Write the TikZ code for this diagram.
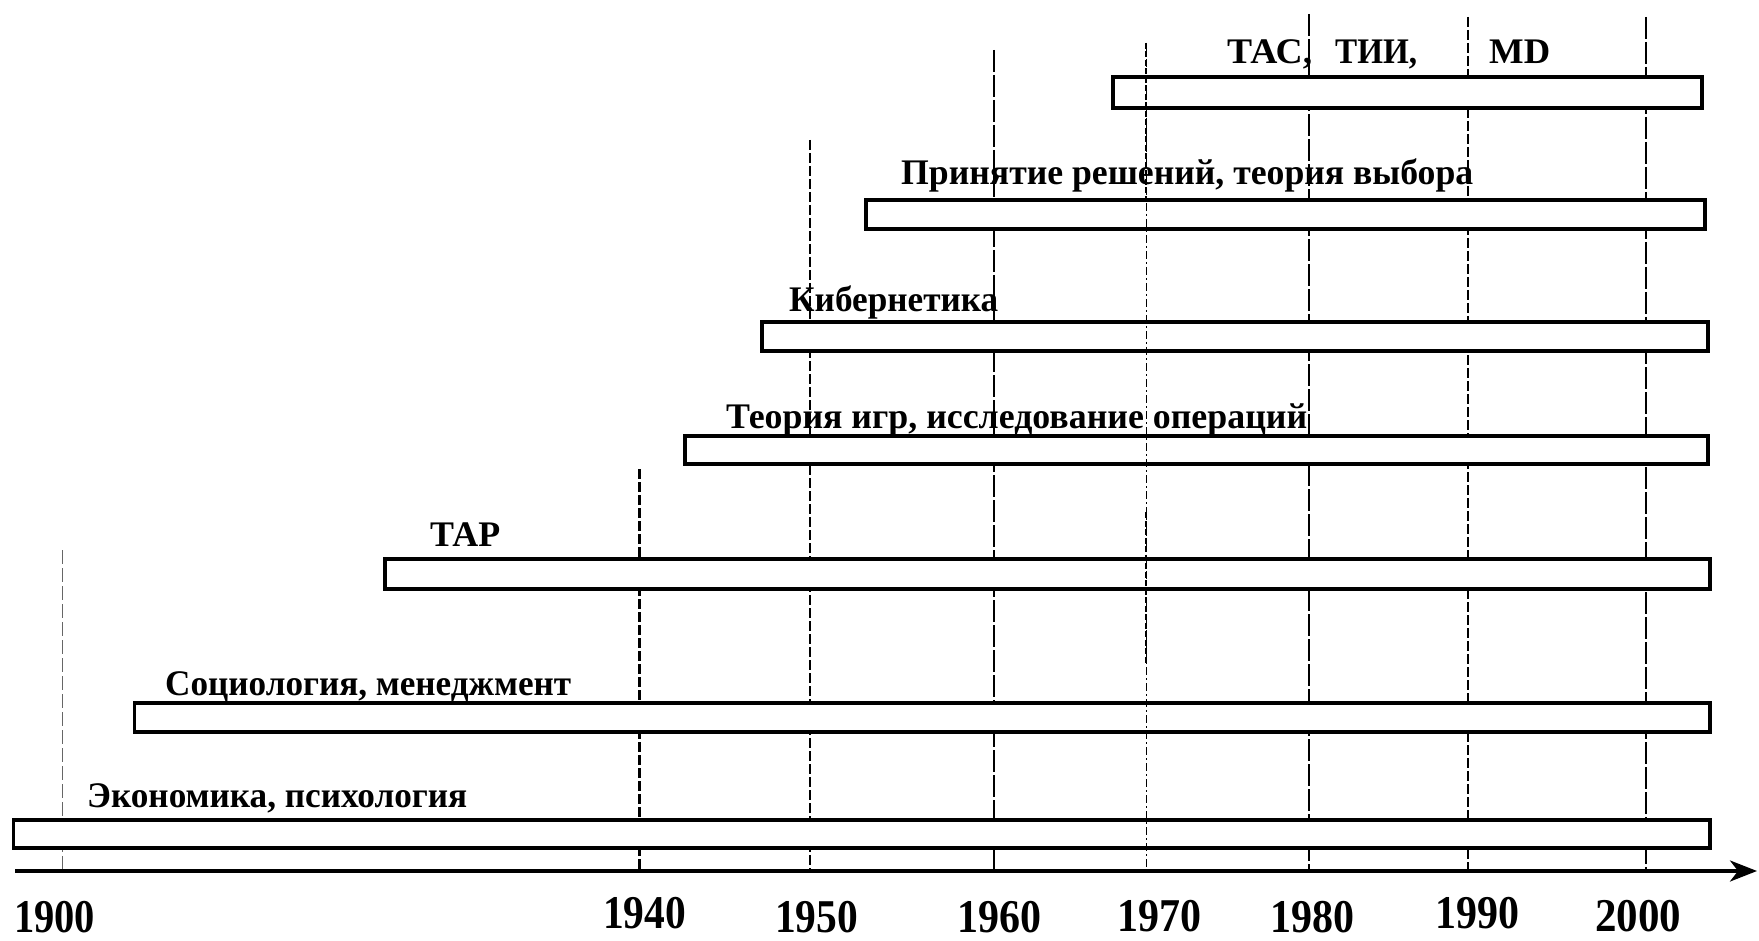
\documentclass[tikz,border=0pt]{standalone}
\usepackage{fontspec}
\setmainfont{Liberation Serif}
\usetikzlibrary{arrows.meta}
\newcommand{\fitto}[2]{\resizebox{#1pt}{\height}{#2}}
\begin{document}
\begin{tikzpicture}[x=1pt,y=-1pt,
  lbl/.style={font=\fontsize{36}{36}\selectfont\bfseries, inner sep=0pt, anchor=base west},
  yr/.style={font=\fontsize{47}{47}\selectfont\bfseries, inner sep=0pt, anchor=base west},
  bar/.style={draw, line width=3.5pt, fill=white},
  thinl/.style={line width=1.1pt, dash pattern=on 22pt off 3pt},
  paleline/.style={line width=1pt, draw=black!60, dash pattern=on 14pt off 4pt},
  thickl/.style={line width=2.6pt, dash pattern=on 10pt off 3pt},
  dotdash/.style={line width=1pt, dash pattern=on 8pt off 3pt on 2pt off 3pt},
  thickseg/.style={line width=2.6pt, dash pattern=on 6pt off 2.5pt}]
\useasboundingbox (0,0) rectangle (1759,941);

% grid lines behind the bars
\draw[paleline] (62,550) -- (62,871);
\draw[thickl] (639.5,469) -- (639.5,871);
\draw[thickl] (810,140) -- (810,871);
\draw[thinl] (994,50) -- (994,871);
\draw[thinl] (1309,14) -- (1309,871);
\draw[thickl] (1468,17) -- (1468,871);
\draw[thinl] (1646,17) -- (1646,871);

% bars
\draw[bar] (13.5,820) rectangle (1710,848);
\draw[bar] (134.6,703) rectangle (1710,732);
\draw[bar] (385,559) rectangle (1710,589);
\draw[bar] (685,436) rectangle (1708,464);
\draw[bar] (762,322) rectangle (1708,351);
\draw[bar] (866,200) rectangle (1705,229);
\draw[bar] (1113,77) rectangle (1702,108);

% 1970 line drawn over the bars
\draw[dotdash] (1146,43) -- (1146,871);
\draw[thickseg] (1146,43) -- (1146,200);
\draw[thickseg] (1146,512) -- (1146,663);

% labels
\node[lbl] (eco) at (87,807) {\fitto{380}{Экономика, психология}};
\node[lbl] (soc) at (165,695) {\fitto{406}{Социология, менеджмент}};
\node[lbl] (tar) at (430,546) {\fitto{70}{ТАР}};
\node[lbl] (ig) at (726,428) {\fitto{581}{Теория игр, исследование операций}};
\node[lbl] (kib) at (789,312) {\fitto{209}{Кибернетика}};
\node[lbl] (pr) at (901,185) {\fitto{572}{Принятие решений, теория выбора}};
\node[lbl] (tas) at (1227,64) {\fitto{85}{ТАС,}};
\node[lbl] (tii) at (1335,64) {\fitto{82}{ТИИ,}};
\node[lbl] (md) at (1489,64) {\fitto{61}{MD}};

% axis
\coordinate (ax0) at (15,871);
\coordinate (ax1) at (1757,871);
\draw[line width=3.5pt, -{Stealth[length=27pt,width=21pt,inset=8pt]}] (ax0) -- (ax1);

% years
\node[yr] (y1900) at (14,932) {\fitto{81}{1900}};
\node[yr] (y1940) at (603,928) {\fitto{83}{1940}};
\node[yr] (y1950) at (775,932) {\fitto{83}{1950}};
\node[yr] (y1960) at (957,932) {\fitto{84}{1960}};
\node[yr] (y1970) at (1117,931) {\fitto{84}{1970}};
\node[yr] (y1980) at (1270,932) {\fitto{84}{1980}};
\node[yr] (y1990) at (1435,928) {\fitto{84}{1990}};
\node[yr] (y2000) at (1595,931) {\fitto{86}{2000}};
\end{tikzpicture}
\end{document}
